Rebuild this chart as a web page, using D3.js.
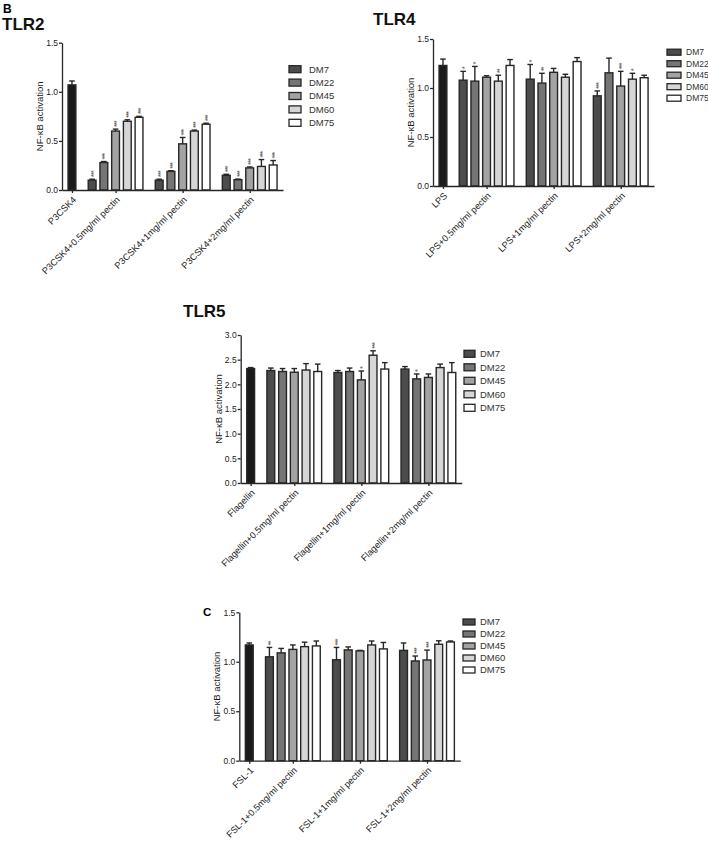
<!DOCTYPE html>
<html>
<head>
<meta charset="utf-8">
<script src="https://cdn.jsdelivr.net/npm/d3@7"></script>
<style>
  body { margin: 0; background: #fff; }
  svg { font-family: "Liberation Sans", Arial, sans-serif; }
</style>
</head>
<body>
<div id="chart"></div>
<script>
// series names + fills
const series = ['DM7', 'DM22', 'DM45', 'DM60', 'DM75']
const fills = ['#4c4c4c', '#757575', '#a3a3a3', '#d6d6d6', '#ffffff']
const controlFill = '#1a1a1a'

// TLR2
const tlr2Labels = ['P3CSK4', 'P3CSK4+0.5mg/ml pectin', 'P3CSK4+1mg/ml pectin', 'P3CSK4+2mg/ml pectin']
const tlr2Control = [1.07, 0.04]
const tlr2Means = [[0.10, 0.28, 0.60, 0.70, 0.74], [0.10, 0.19, 0.47, 0.60, 0.67], [0.15, 0.105, 0.225, 0.24, 0.255]]
const tlr2Sem = [[0.01, 0.01, 0.02, 0.015, 0.01], [0.01, 0.006, 0.065, 0.01, 0.01], [0.01, 0.006, 0.01, 0.07, 0.045]]
const tlr2Stars = [['***', '***', '***', '***', '***'], ['***', '***', '***', '***', '***'], ['***', '***', '***', '***', '***']]
const tlr2Ticks = [0, 0.5, 1.0, 1.5]

// TLR4
const tlr4Labels = ['LPS', 'LPS+0.5mg/ml pectin', 'LPS+1mg/ml pectin', 'LPS+2mg/ml pectin']
const tlr4Control = [1.23, 0.065]
const tlr4Means = [[1.08, 1.07, 1.11, 1.07, 1.23], [1.09, 1.05, 1.16, 1.11, 1.27], [0.92, 1.155, 1.02, 1.09, 1.105]]
const tlr4Sem = [[0.09, 0.15, 0.015, 0.06, 0.06], [0.15, 0.10, 0.04, 0.03, 0.04], [0.05, 0.15, 0.15, 0.06, 0.025]]
const tlr4Stars = [['*', '*', '', '**', ''], ['*', '**', '', '', ''], ['***', '', '***', '*', '']]
const tlr4Ticks = [0, 0.5, 1.0, 1.5]

// TLR5
const tlr5Labels = ['Flagellin', 'Flagellin+0.5mg/ml pectin', 'Flagellin+1mg/ml pectin', 'Flagellin+2mg/ml pectin']
const tlr5Control = [2.32, 0.02]
const tlr5Means = [[2.28, 2.26, 2.245, 2.29, 2.26], [2.24, 2.26, 2.09, 2.59, 2.31], [2.31, 2.11, 2.14, 2.34, 2.24]]
const tlr5Sem = [[0.05, 0.06, 0.075, 0.13, 0.15], [0.04, 0.07, 0.18, 0.09, 0.13], [0.05, 0.10, 0.07, 0.07, 0.20]]
const tlr5Stars = [['', '', '', '', ''], ['', '', '*', '***', ''], ['', '*', '', '', '']]
const tlr5Ticks = [0, 0.5, 1.0, 1.5, 2.0, 2.5, 3.0]

// C (FSL-1)
const fslLabels = ['FSL-1', 'FSL-1+0.5mg/ml pectin', 'FSL-1+1mg/ml pectin', 'FSL-1+2mg/ml pectin']
const fslControl = [1.17, 0.02]
const fslMeans = [[1.05, 1.09, 1.125, 1.153, 1.16], [1.02, 1.12, 1.11, 1.17, 1.13], [1.115, 1.008, 1.018, 1.177, 1.20]]
const fslSem = [[0.095, 0.045, 0.045, 0.045, 0.05], [0.125, 0.03, 0.005, 0.04, 0.065], [0.075, 0.05, 0.10, 0.035, 0.01]]
const fslStars = [['**', '', '', '', ''], ['***', '', '', '', ''], ['', '***', '***', '', '']]
const fslTicks = [0, 0.5, 1.0, 1.5]

const W = 708, H = 841
const ink = '#262626'

let svg = d3.select('#chart').append('svg')
  .attr('width', W)
  .attr('height', H)

// panel letters
svg.append('text').attr('x', 3).attr('y', 13).attr('font-size', 12).attr('font-weight', 'bold').text('B')
svg.append('text').attr('x', 203).attr('y', 616).attr('font-size', 11.5).attr('font-weight', 'bold').text('C')

// slot position of a bar: control at 0, then 3 groups of 5 with a gap
const gap = 0.72
function slot(g, j) { return 1 + g * 5 + j + (g + 1) * gap }

function panel(cfg) {
  let x = d3.scaleLinear().domain([-0.85, 18.0]).range([cfg.ox, cfg.ox + 221])
  let y = d3.scaleLinear().domain([0, cfg.ymax]).range([cfg.y0, cfg.yTop])
  let bw = x(0.77) - x(0)
  let g = svg.append('g')

  if (cfg.title) {
    g.append('text').attr('x', cfg.tx).attr('y', cfg.ty)
      .attr('font-size', 17).attr('font-weight', 'bold').attr('fill', '#111')
      .text(cfg.title)
  }

  // bars: control + groups
  let bars = [{ pos: 0, v: cfg.control[0], e: cfg.control[1], fill: controlFill, star: '' }]
  cfg.means.forEach((row, gi) => {
    row.forEach((v, j) => {
      bars.push({ pos: slot(gi, j), v: v, e: cfg.sem[gi][j], fill: fills[j], star: cfg.stars[gi][j] })
    })
  })

  // error bars (upper only)
  let eb = g.append('g').attr('stroke', ink).attr('stroke-width', 1.4)
  eb.selectAll('.stem').data(bars).enter().append('line')
    .attr('x1', d => x(d.pos)).attr('x2', d => x(d.pos))
    .attr('y1', d => y(d.v)).attr('y2', d => y(d.v + d.e))
  eb.selectAll('.cap').data(bars).enter().append('line')
    .attr('x1', d => x(d.pos) - 2.8).attr('x2', d => x(d.pos) + 2.8)
    .attr('y1', d => y(d.v + d.e)).attr('y2', d => y(d.v + d.e))

  g.selectAll('.bar').data(bars).enter().append('rect')
    .attr('x', d => x(d.pos) - bw / 2 + 0.6)
    .attr('width', bw - 1.2)
    .attr('y', d => y(d.v))
    .attr('height', d => y(0) - y(d.v))
    .attr('fill', d => d.fill)
    .attr('stroke', ink)
    .attr('stroke-width', 1.4)

  // significance stars, stacked vertically
  g.selectAll('.star').data(bars.filter(d => d.star)).enter().append('text')
    .attr('transform', d => `translate(${x(d.pos) + 3.6},${y(d.v + d.e) - 2}) rotate(-90)`)
    .attr('font-size', 7.5)
    .attr('fill', '#444')
    .attr('letter-spacing', -1)
    .text(d => d.star)

  // y axis
  let ya = g.append('g').attr('transform', `translate(${cfg.ox},0)`)
    .call(d3.axisLeft(y).tickValues(cfg.ticks).tickFormat(d3.format('.1f')).tickSize(3).tickSizeOuter(0))
  ya.select('.domain').attr('stroke', ink).attr('stroke-width', 1.3)
  ya.selectAll('.tick line').attr('stroke', ink).attr('stroke-width', 1.3)
  ya.selectAll('.tick text').attr('font-size', 8.5).attr('fill', '#1a1a1a').attr('x', -4)
    .attr('font-family', '"Liberation Sans", Arial, sans-serif')

  // x axis
  let tickPos = [0, slot(0, 2), slot(1, 2), slot(2, 2)]
  let xa = g.append('g').attr('transform', `translate(0,${cfg.y0})`)
    .call(d3.axisBottom(x).tickValues(tickPos).tickFormat((d, i) => cfg.labels[i]).tickSize(3).tickSizeOuter(0))
  xa.select('.domain').attr('stroke', ink).attr('stroke-width', 1.3)
  xa.selectAll('.tick line').attr('stroke', ink).attr('stroke-width', 1.3)
  xa.selectAll('.tick text')
    .attr('font-size', 9.2).attr('fill', '#1a1a1a')
    .attr('font-family', '"Liberation Sans", Arial, sans-serif')
    .attr('text-anchor', 'end')
    .attr('dy', '0.35em')
    .attr('transform', 'translate(2,8) rotate(-45)')
    .attr('y', 0)
    .attr('x', 0)

  // y title
  g.append('text')
    .attr('transform', `translate(${cfg.ox - 19},${(cfg.y0 + cfg.yTop) / 2}) rotate(-90)`)
    .attr('text-anchor', 'middle')
    .attr('font-size', 9.5)
    .attr('fill', '#1a1a1a')
    .text('NF-κB activation')

  // legend
  let lg = g.append('g')
  series.forEach((s, i) => {
    let cy = cfg.ly + i * cfg.lstep
    lg.append('rect')
      .attr('x', cfg.lx).attr('y', cy - cfg.bh / 2)
      .attr('width', cfg.bwid).attr('height', cfg.bh)
      .attr('fill', fills[i]).attr('stroke', ink).attr('stroke-width', 1.3)
    lg.append('text')
      .attr('x', cfg.ltx).attr('y', cy).attr('dy', '0.36em')
      .attr('font-size', cfg.lfs).attr('fill', '#333')
      .text(s)
  })
}

panel({ title: 'TLR2', tx: 2, ty: 30, ox: 62, y0: 190, yTop: 42.7, ymax: 1.5, ticks: tlr2Ticks,
  labels: tlr2Labels, control: tlr2Control, means: tlr2Means, sem: tlr2Sem, stars: tlr2Stars,
  lx: 289, ly: 69.2, lstep: 13.4, bwid: 12, bh: 7, ltx: 309, lfs: 9.5 })

panel({ title: 'TLR4', tx: 373, ty: 25, ox: 433, y0: 186, yTop: 39, ymax: 1.5, ticks: tlr4Ticks,
  labels: tlr4Labels, control: tlr4Control, means: tlr4Means, sem: tlr4Sem, stars: tlr4Stars,
  lx: 667, ly: 52.2, lstep: 11.5, bwid: 14, bh: 6, ltx: 686, lfs: 8.5 })

panel({ title: 'TLR5', tx: 183, ty: 317, ox: 240.7, y0: 483, yTop: 335, ymax: 3.0, ticks: tlr5Ticks,
  labels: tlr5Labels, control: tlr5Control, means: tlr5Means, sem: tlr5Sem, stars: tlr5Stars,
  lx: 464, ly: 353.8, lstep: 13.5, bwid: 11, bh: 7, ltx: 480, lfs: 9.5 })

panel({ title: null, ox: 239.3, y0: 760.7, yTop: 612.3, ymax: 1.5, ticks: fslTicks,
  labels: fslLabels, control: fslControl, means: fslMeans, sem: fslSem, stars: fslStars,
  lx: 463, ly: 622, lstep: 12, bwid: 12, bh: 6, ltx: 480, lfs: 9.5 })
</script>
</body>
</html>
